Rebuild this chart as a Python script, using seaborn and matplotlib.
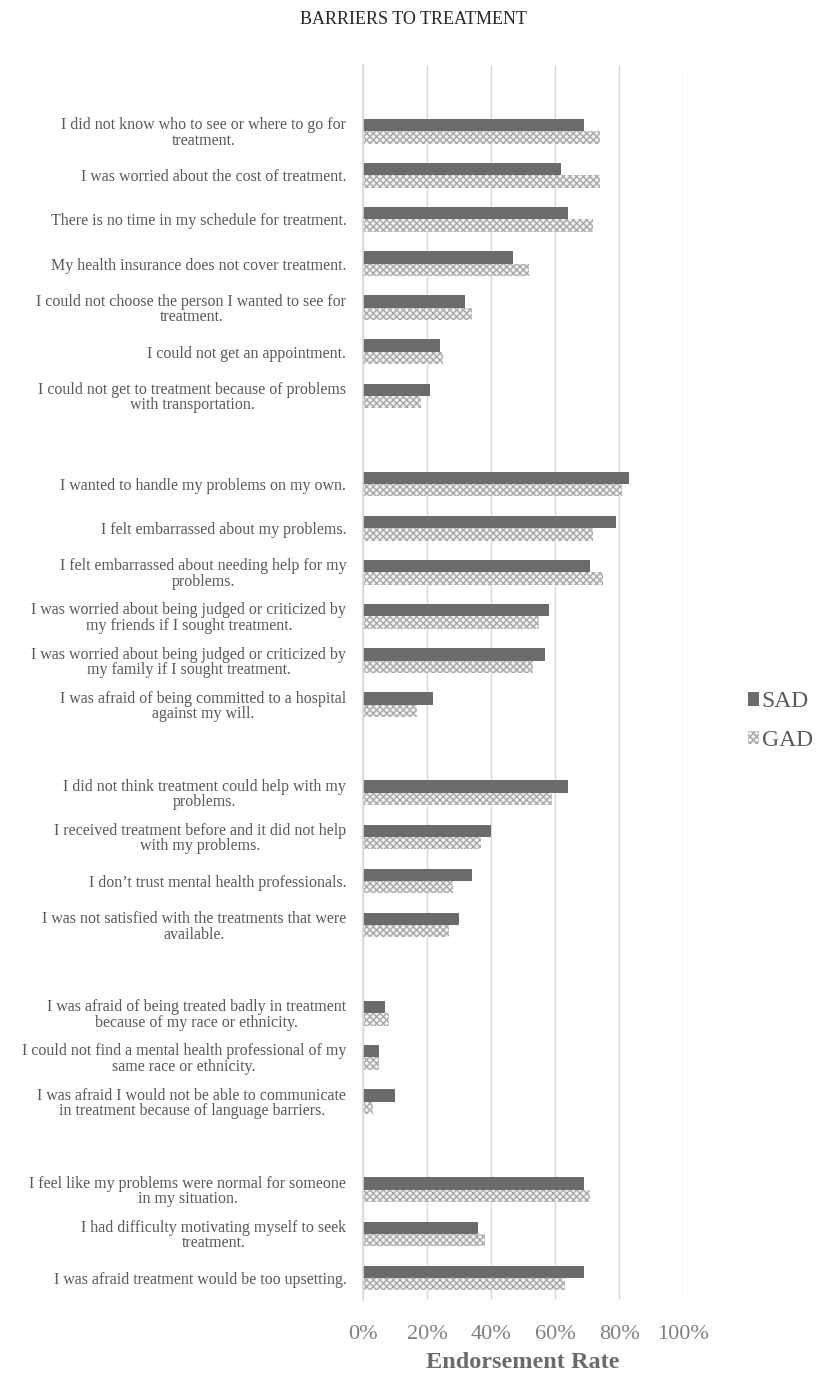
import pandas as pd
import matplotlib
matplotlib.use("Agg")
import matplotlib.pyplot as plt
from matplotlib.patches import Patch
import seaborn as sns

# barrier statements (blank entries separate the groups)
barriers = [
    "I did not know who to see or where to go for\ntreatment.",
    "I was worried about the cost of treatment.",
    "There is no time in my schedule for treatment.",
    "My health insurance does not cover treatment.",
    "I could not choose the person I wanted to see for\ntreatment.",
    "I could not get an appointment.",
    "I could not get to treatment because of problems\nwith transportation.",
    " ",
    "I wanted to handle my problems on my own.",
    "I felt embarrassed about my problems.",
    "I felt embarrassed about needing help for my\nproblems.",
    "I was worried about being judged or criticized by\nmy friends if I sought treatment.",
    "I was worried about being judged or criticized by\nmy family if I sought treatment.",
    "I was afraid of being committed to a hospital\nagainst my will.",
    "  ",
    "I did not think treatment could help with my\nproblems.",
    "I received treatment before and it did not help\nwith my problems.",
    "I don\u2019t trust mental health professionals.",
    "I was not satisfied with the treatments that were\navailable.",
    "   ",
    "I was afraid of being treated badly in treatment\nbecause of my race or ethnicity.",
    "I could not find a mental health professional of my\nsame race or ethnicity.",
    "I was afraid I would not be able to communicate\nin treatment because of language barriers.",
    "    ",
    "I feel like my problems were normal for someone\nin my situation.",
    "I had difficulty motivating myself to seek\ntreatment.",
    "I was afraid treatment would be too upsetting.",
]

# endorsement rates (None for the spacer rows)
sad = [0.69, 0.62, 0.64, 0.47, 0.32, 0.24, 0.21, None,
       0.83, 0.79, 0.71, 0.58, 0.57, 0.22, None,
       0.64, 0.40, 0.34, 0.30, None,
       0.07, 0.05, 0.10, None,
       0.69, 0.36, 0.69]
gad = [0.74, 0.74, 0.72, 0.52, 0.34, 0.25, 0.18, None,
       0.81, 0.72, 0.75, 0.55, 0.53, 0.17, None,
       0.59, 0.37, 0.28, 0.27, None,
       0.08, 0.05, 0.03, None,
       0.71, 0.38, 0.63]

groups = ["SAD", "GAD"]
x_ticks = [0, 0.2, 0.4, 0.6, 0.8, 1.0]
x_labels = ["0%", "20%", "40%", "60%", "80%", "100%"]

rows = []
for b, s, g in zip(barriers, sad, gad):
    if s is None:
        continue
    rows.append([b, "SAD", s])
    rows.append([b, "GAD", g])
df = pd.DataFrame(rows, columns=["Barrier", "Group", "Rate"])

sns.set_theme(style="white")
plt.rcParams["font.family"] = ["Liberation Serif", "DejaVu Serif"]

fig = plt.figure(figsize=(8.18, 13.76), dpi=100)
ax = fig.add_axes([0.4438, 0.0552, 0.3912, 0.8975])

sns.barplot(data=df, y="Barrier", x="Rate", hue="Group", order=barriers,
            hue_order=groups, palette=["#6b6b6b", "#f2f2f2"], width=0.56,
            orient="h", ax=ax, legend=False)

# hatch the GAD bars
for bar in ax.containers[1]:
    bar.set_hatch("xxxxx")
    bar.set_edgecolor("#a8a8a8")
    bar.set_linewidth(0)
for bar in ax.containers[0]:
    bar.set_linewidth(0)

ax.set_xlim(0, 1)
ax.set_ylim(len(barriers) - 0.5, -1.5)
ax.set_xticks(x_ticks)
ax.set_xticklabels(x_labels, fontsize=16, color="#7f7f7f")
ax.tick_params(axis="x", length=0, pad=18)
ax.tick_params(axis="y", length=0, pad=12)
for lab in ax.get_yticklabels():
    lab.set_fontsize(11.5)
    lab.set_color("#595959")
    lab.set_multialignment("center")
    lab.set_linespacing(0.95)

ax.grid(axis="x", color="#d9d9d9", linewidth=1)
ax.set_axisbelow(True)
for side in ["top", "right", "bottom"]:
    ax.spines[side].set_visible(False)
ax.spines["left"].set_color("#d9d9d9")

ax.set_ylabel("")
ax.set_xlabel("Endorsement Rate", fontsize=17.5, fontweight="bold",
              color="#6b6b6b", labelpad=6)

fig.suptitle("BARRIERS TO TREATMENT", fontsize=13, color="#262626",
             x=0.506, y=0.992)

handles = [Patch(facecolor="#6b6b6b", linewidth=0),
           Patch(facecolor="#f2f2f2", hatch="xxxxx", edgecolor="#a8a8a8", linewidth=0)]
fig.legend(handles, groups, loc="center left", bbox_to_anchor=(0.888, 0.476),
           frameon=False, fontsize=17, handlelength=0.5, handleheight=0.5,
           handletextpad=0.1, labelspacing=0.75, labelcolor="#595959")

fig.savefig("out.png", dpi=100)
